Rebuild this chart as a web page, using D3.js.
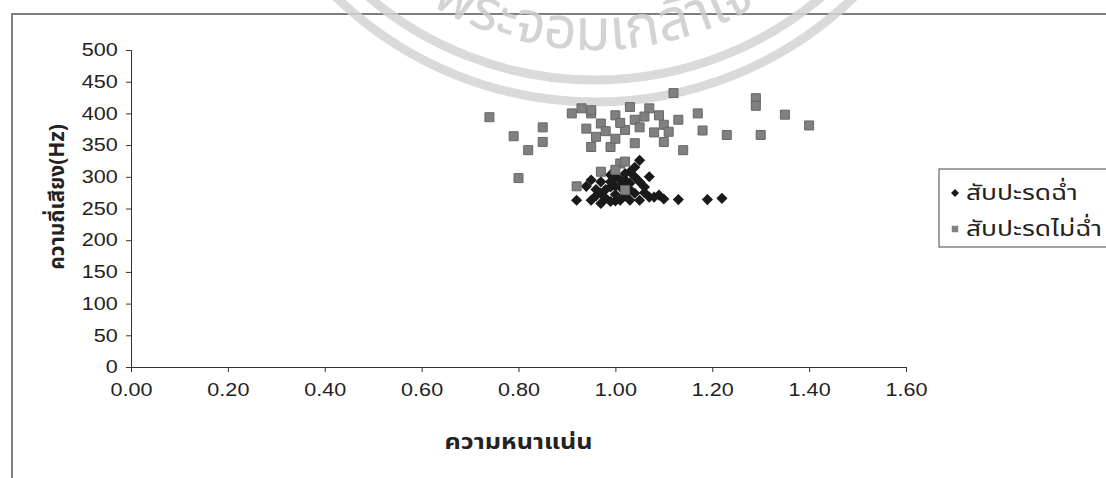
<!DOCTYPE html>
<html>
<head>
<meta charset="utf-8">
<script src="https://cdn.jsdelivr.net/npm/d3@7"></script>
<style>
  body { margin: 0; background: #fff; }
  svg { display: block; }
</style>
</head>
<body>
<div id="chart"></div>
<script>
// series: juicy pineapple (diamonds) and non-juicy pineapple (squares)
var seriesNames = ['สับปะรดฉ่ำ', 'สับปะรดไม่ฉ่ำ'];

var juicyDensity = [0.92, 0.94, 0.95, 0.95, 0.97, 0.97, 0.97, 0.99, 0.99, 0.99, 1.00, 1.01, 1.01, 1.02,
    1.03, 1.03, 1.04, 1.05, 1.05, 1.06, 1.07, 1.07, 1.08, 1.09, 1.10, 1.13, 1.19, 1.22, 1.00, 1.02, 1.04,
    0.96, 0.98, 1.00, 1.01, 1.02, 1.03, 1.04, 0.98, 1.00, 1.06, 1.03, 0.96, 1.05, 1.02, 0.99];
var juicyPitch = [263, 285, 263, 295, 258, 274, 292, 261, 284, 303, 300, 263, 284, 287,
    263, 308, 274, 263, 326, 284, 268, 300, 268, 271, 265, 264, 264, 266, 272, 295, 315,
    270, 280, 285, 295, 270, 290, 300, 266, 262, 275, 280, 280, 292, 305, 292];

var notJuicyDensity = [0.74, 0.79, 0.85, 0.85, 0.82, 0.80, 0.92,
    0.91, 0.93, 0.95, 0.94, 0.95, 0.95, 0.97, 1.00, 1.03, 1.02, 1.04, 1.07, 1.09, 1.10, 1.13, 1.11,
    1.10, 1.12, 1.17, 1.18, 1.14, 1.23, 0.99, 0.96, 1.04, 0.98, 1.01, 1.06, 1.08, 1.00, 1.05,
    1.29, 1.29, 1.35, 1.40, 1.30,
    0.97, 1.01, 1.02, 1.02, 1.00];
var notJuicyPitch = [394, 364, 378, 355, 342, 298, 285,
    400, 408, 400, 376, 347, 405, 384, 397, 410, 374, 390, 408, 397, 382, 390, 371,
    355, 432, 400, 373, 342, 366, 347, 363, 353, 372, 385, 395, 370, 360, 378,
    424, 412, 398, 381, 366,
    308, 321, 324, 279, 311];

var xTicks = [0, 0.2, 0.4, 0.6, 0.8, 1.0, 1.2, 1.4, 1.6];
var yTicks = [0, 50, 100, 150, 200, 250, 300, 350, 400, 450, 500];

var xTitle = 'ความหนาแน่น';
var yTitle = 'ความถี่เสียง(Hz)';
var stampText = 'พระจอมเกล้าเจ';

var fullWidth = 1106;
var fullHeight = 478;
var plotLeft = 131;
var plotRight = 906;
var plotTop = 50;
var plotBottom = 367;

var tickFont = '"Liberation Sans", Arial, sans-serif';
var thaiFont = '"Noto Sans Thai", Tahoma, "Noto Sans", sans-serif';
var axisColor = '#333';
var squareColor = '#808080';
var diamondColor = '#1a1a1a';

window.onload = function() {
    render();
};

function render() {
    var svg = d3.select('#chart').append('svg')
        .attr('width', fullWidth)
        .attr('height', fullHeight);

    // outer chart frame (runs off the right and bottom of the scan)
    svg.append('path')
        .attr('d', 'M12,' + (fullHeight + 5) + 'V14H' + (fullWidth + 5))
        .attr('fill', 'none')
        .attr('stroke', '#555')
        .attr('stroke-width', 1.5);

    drawStamp(svg);
    makeGraph(svg);
    makeLegend(svg);
}

// faint library stamp showing through the scan
function drawStamp(svg) {
    var cx = 595, cy = -270;
    var g = svg.append('g').style('opacity', 0.85);
    [372, 350].forEach(function(r) {
        g.append('circle')
            .attr('cx', cx)
            .attr('cy', cy)
            .attr('r', r)
            .attr('fill', 'none')
            .attr('stroke', '#d4d4d4')
            .attr('stroke-width', 9);
    });
    var rt = 320;
    g.append('path')
        .attr('id', 'stampArc')
        .attr('fill', 'none')
        .attr('d', 'M' + (cx - rt) + ',' + cy + 'A' + rt + ',' + rt + ' 0 0 0 ' + (cx + rt) + ',' + cy);
    g.append('text')
        .style('font-family', thaiFont)
        .style('font-size', '58px')
        .style('fill', '#cccccc')
        .append('textPath')
        .attr('href', '#stampArc')
        .attr('startOffset', 330)
        .text(stampText);
}

function makeGraph(svg) {
    var x = d3.scaleLinear().domain([0, 1.6]).range([plotLeft, plotRight]);
    var y = d3.scaleLinear().domain([0, 500]).range([plotBottom, plotTop]);

    var xAxis = svg.append('g')
        .attr('transform', 'translate(0,' + plotBottom + ')')
        .call(d3.axisBottom(x).tickValues(xTicks).tickFormat(d3.format('.2f')).tickSizeOuter(0).tickSize(5).tickPadding(11));
    xAxis.selectAll('text')
        .attr('transform', 'scale(1.2,1)')
        .style('font-family', tickFont)
        .style('font-size', '18px')
        .style('fill', '#222');

    var yAxis = svg.append('g')
        .attr('transform', 'translate(' + plotLeft + ',0)')
        .call(d3.axisLeft(y).tickValues(yTicks).tickSizeOuter(0).tickSize(5));
    yAxis.selectAll('text')
        .attr('x', -11)
        .attr('transform', 'scale(1.2,1)')
        .style('font-family', tickFont)
        .style('font-size', '18px')
        .style('fill', '#222');

    [xAxis, yAxis].forEach(function(a) {
        a.selectAll('path, line').attr('stroke', axisColor);
    });

    // axis titles
    svg.append('text')
        .attr('transform', 'translate(' + ((plotLeft + plotRight) / 2) + ',449) scale(1.2,1)')
        .style('text-anchor', 'middle')
        .style('font-family', thaiFont)
        .style('font-weight', 'bold')
        .style('font-size', '21px')
        .style('fill', '#222')
        .text(xTitle);

    svg.append('text')
        .attr('transform', 'translate(64,' + 197 + ') rotate(-90)')
        .style('text-anchor', 'middle')
        .style('font-family', thaiFont)
        .style('font-weight', 'bold')
        .style('font-size', '21px')
        .style('fill', '#222')
        .text(yTitle);

    // juicy: black diamonds
    var diamond = d3.symbol(d3.symbolSquare, 62);
    svg.append('g').selectAll('path')
        .data(d3.range(juicyDensity.length))
        .join('path')
        .attr('d', diamond)
        .attr('transform', function(i) {
            return 'translate(' + x(juicyDensity[i]) + ',' + y(juicyPitch[i]) + ') rotate(45)';
        })
        .attr('fill', diamondColor);

    // not juicy: grey squares, drawn on top
    var square = d3.symbol(d3.symbolSquare, 81);
    svg.append('g').selectAll('path')
        .data(d3.range(notJuicyDensity.length))
        .join('path')
        .attr('d', square)
        .attr('transform', function(i) {
            return 'translate(' + x(notJuicyDensity[i]) + ',' + y(notJuicyPitch[i]) + ')';
        })
        .attr('fill', squareColor)
        .attr('stroke', '#666')
        .attr('stroke-width', 1);
}

function makeLegend(svg) {
    var lx = 939, ly = 169;
    svg.append('rect')
        .attr('x', lx)
        .attr('y', ly)
        .attr('width', 200)
        .attr('height', 78)
        .attr('fill', '#fff')
        .attr('stroke', '#444')
        .attr('stroke-width', 1);

    var rows = [
        { name: seriesNames[0], sym: d3.symbol(d3.symbolSquare, 32), rot: 45, fill: diamondColor, cy: 193 },
        { name: seriesNames[1], sym: d3.symbol(d3.symbolSquare, 42), rot: 0, fill: squareColor, cy: 229 }
    ];
    rows.forEach(function(r) {
        svg.append('path')
            .attr('d', r.sym)
            .attr('transform', 'translate(' + (lx + 16) + ',' + r.cy + ') rotate(' + r.rot + ')')
            .attr('fill', r.fill);
        svg.append('text')
            .attr('transform', 'translate(' + (lx + 27) + ',' + (r.cy + 7) + ') scale(1.2,1)')
            .style('font-family', thaiFont)
            .style('font-size', '22px')
            .style('fill', '#222')
            .text(r.name);
    });
}
</script>
</body>
</html>
